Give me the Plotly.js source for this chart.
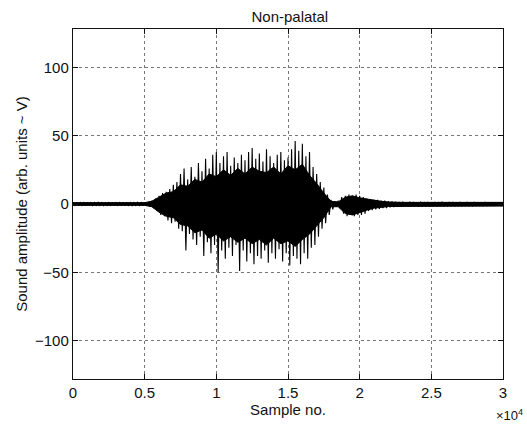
<!DOCTYPE html>
<html>
<head>
<meta charset="utf-8">
<script src="https://cdn.plot.ly/plotly-3.0.1.min.js"></script>
<style>html,body{margin:0;padding:0;background:#fff}#chart{width:527px;height:425px}</style>
</head>
<body>
<div id="chart"></div>
<script>
// Spike envelope (every 250 samples)
const sampleStep = 250;
const peakHigh = [
  1.2, 0.9, 1.1, 1.0, 1.3, 0.9, 1.1, 1.2, 1.0, 0.9,
  1.1, 1.2, 1.0, 1.1, 0.9, 1.2, 1.0, 1.1, 1.2, 1.0,
  1.2, 1.5, 2.5, 4, 6, 8, 9, 11, 14, 16,
  22, 26, 18, 27, 20, 30, 24, 33, 26, 36,
  38, 30, 35, 38, 28, 34, 30, 36, 32, 38,
  41, 33, 37, 31, 40, 35, 30, 36, 38, 32,
  34, 40, 46, 39, 44, 35, 38, 27, 22, 16,
  12, 7, 3, 2, 2.5, 5, 6, 7, 6, 7,
  6, 5, 4, 3.5, 3, 3, 2.5, 2.5, 2, 1.8,
  1.6, 1.5, 1.7, 1.4, 1.6, 1.5, 1.3, 1.6, 1.4, 1.5,
  1.3, 1.5, 1.4, 1.6, 1.3, 1.4, 1.5, 1.3, 1.4, 1.2,
  1.4, 1.3, 1.5, 1.2, 1.3, 1.4, 1.2, 1.3, 1.2, 1.3, 1.2
];
const peakLow = [
  -1.1, -1.3, -1.0, -1.2, -0.9, -1.2, -1.1, -1.0, -1.3, -1.1,
  -1.0, -1.2, -1.1, -1.0, -1.3, -1.1, -1.2, -1.0, -1.1, -1.2,
  -1.3, -1.6, -3, -5, -8, -9, -12, -14, -13, -18,
  -20, -34, -22, -26, -30, -24, -38, -28, -36, -30,
  -50, -34, -40, -32, -38, -30, -49, -34, -42, -36,
  -44, -38, -40, -34, -43, -36, -40, -33, -42, -36,
  -45, -38, -40, -44, -36, -40, -32, -30, -24, -18,
  -14, -8, -4, -2, -3, -7, -9, -8, -9, -8,
  -8, -7, -5, -4.5, -4, -3.5, -3, -3, -2.5, -2.2,
  -2.0, -1.8, -1.9, -1.7, -1.8, -1.6, -1.8, -1.7, -1.6, -1.8,
  -1.6, -1.7, -1.5, -1.7, -1.6, -1.5, -1.6, -1.5, -1.6, -1.4,
  -1.5, -1.6, -1.4, -1.5, -1.4, -1.5, -1.4, -1.5, -1.3, -1.4, -1.4
];
// Solid dense core of the waveform (every 500 samples)
const coreStep = 500;
const coreHigh = [
  1, 1, 1, 1, 1, 1, 1, 1, 1, 1,
  1, 2, 5, 8, 9, 14, 13, 18, 16, 22,
  20, 25, 21, 26, 22, 27, 24, 23, 27, 22,
  28, 25, 29, 21, 15, 8, 2, 1.5, 5, 6,
  4.5, 3.5, 2.5, 2, 1.5, 1.2, 1.2, 1.2, 1.2, 1.2,
  1.2, 1.2, 1.2, 1.2, 1.2, 1.2, 1.2, 1.2, 1.2, 1.2, 1.2
];
const coreLow = [
  -1, -1, -1, -1, -1, -1, -1, -1, -1, -1,
  -1, -2, -6, -9, -10, -15, -16, -21, -19, -25,
  -22, -27, -24, -28, -25, -29, -26, -30, -25, -29,
  -27, -31, -26, -22, -16, -10, -2, -2, -7, -8,
  -6.5, -4.5, -3, -2.5, -1.8, -1.5, -1.5, -1.5, -1.5, -1.5,
  -1.5, -1.5, -1.5, -1.5, -1.5, -1.5, -1.5, -1.5, -1.5, -1.5, -1.5
];
const xTickVals = [0, 5000, 10000, 15000, 20000, 25000, 30000];
const xTickText = ['0', '0.5', '1', '1.5', '2', '2.5', '3'];
const yTickVals = [-100, -50, 0, 50, 100];

// Interleave highs and lows to draw the oscillating waveform
const xs = [], ys = [];
for (let i = 0; i < peakHigh.length; i++) {
  const s = i * sampleStep;
  xs.push(s); ys.push(peakHigh[i]);
  if (i < peakHigh.length - 1) { xs.push(s + sampleStep / 2); ys.push(peakLow[i]); }
}
// Core polygon: upper edge forward, lower edge back
const coreX = [], coreY = [];
for (let i = 0; i < coreHigh.length; i++) { coreX.push(i * coreStep); coreY.push(coreHigh[i]); }
for (let i = coreLow.length - 1; i >= 0; i--) { coreX.push(i * coreStep); coreY.push(coreLow[i]); }

const fam = 'Liberation Sans, Arial, sans-serif';
const ink = '#111';
const axisCommon = {
  showline: true, mirror: 'ticks', linecolor: ink, linewidth: 1.2,
  ticks: 'inside', ticklen: 5, tickcolor: ink,
  showgrid: true, gridcolor: '#777', griddash: 'dot', gridwidth: 1,
  zeroline: false, tickfont: {family: fam, size: 15, color: ink}
};

const coreTrace = {x: coreX, y: coreY, type: 'scatter', mode: 'lines', fill: 'toself',
  fillcolor: '#000', line: {color: '#000', width: 1}, hoverinfo: 'skip'};
const spikeTrace = {x: xs, y: ys, type: 'scatter', mode: 'lines',
  line: {color: '#000', width: 1.1}, hoverinfo: 'skip'};

const layout = {
  width: 527, height: 425,
  margin: {l: 73, r: 24, t: 29, b: 46},
  paper_bgcolor: '#fff', plot_bgcolor: '#fff',
  font: {family: fam, size: 15, color: ink}, showlegend: false,
  title: {text: 'Non-palatal', font: {family: fam, size: 15, color: ink}, x: 0.55, xanchor: 'center', y: 0.972, yanchor: 'top'},
  xaxis: Object.assign({}, axisCommon, {
    range: [0, 30000], tickvals: xTickVals, ticktext: xTickText,
    title: {text: 'Sample no.', font: {family: fam, size: 15, color: ink}, standoff: 4}
  }),
  yaxis: Object.assign({}, axisCommon, {
    range: [-128, 128], tickvals: yTickVals,
    title: {text: 'Sound amplitude (arb. units ~ V)', font: {family: fam, size: 15, color: ink}, standoff: 3}
  }),
  annotations: [{
    text: '×10<sup>4</sup>', xref: 'paper', yref: 'paper', x: 1.05, y: -0.075,
    xanchor: 'right', yanchor: 'top', showarrow: false,
    font: {family: fam, size: 13, color: ink}
  }]
};

Plotly.newPlot('chart', [coreTrace, spikeTrace], layout, {staticPlot: true, displayModeBar: false});
</script>
</body>
</html>
